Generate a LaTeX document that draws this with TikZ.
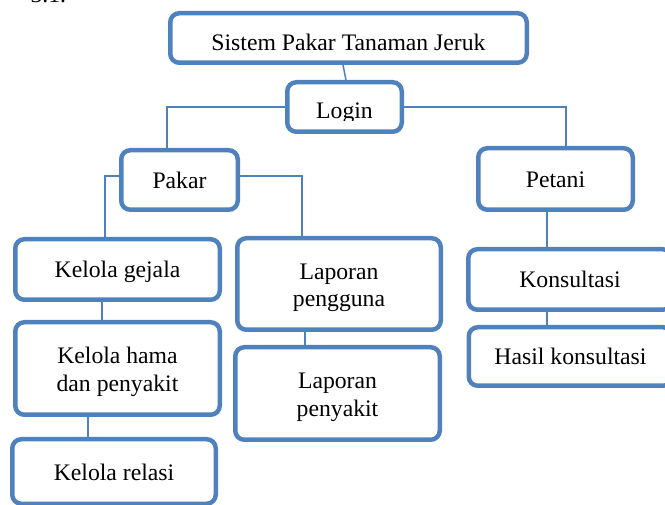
\documentclass[tikz,border=0pt]{standalone}
\usepackage{tikz}
\usepackage{xcolor}
\usepackage{fontspec}
\usepackage{trimclip}
\setmainfont{Liberation Serif}
\definecolor{boxblue}{RGB}{79,129,189}
\newcommand{\boxfont}{\fontsize{23.7}{27.3}\selectfont}
\newcommand{\toprule}{\rule{0pt}{23pt}}

\begin{document}
\begin{tikzpicture}[
  x=1pt, y=-1pt,
  box/.style={draw=boxblue,line width=4.5pt,rounded corners=9pt,align=center,font=\boxfont,inner sep=0pt},
  sbox/.style={box,text height=17pt,text depth=0pt},
  link/.style={draw=boxblue,line width=1.5pt}
]
  \useasboundingbox (0,0) rectangle (665,505);
  \node[font=\boxfont,anchor=base west] (fig) at (27,3) {3.1.};
  \node[sbox,text height=26pt,minimum width=356.5pt,minimum height=49.5pt] (sistem) at (348.5,38) {Sistem Pakar Tanaman Jeruk};
  \node[sbox,text height=23pt,minimum width=114.5pt,minimum height=49.5pt] (login) at (344.5,107) {\clipbox{0pt 3pt 0pt 0pt}{Login}};
  \node[sbox,minimum width=116.5pt,minimum height=59.5pt] (pakar) at (179.5,180) {Pakar};
  \node[sbox,minimum width=154.5pt,minimum height=61.5pt] (petani) at (555.5,179) {Petani};
  \node[sbox,minimum width=204.5pt,minimum height=60.5pt] (gejala) at (117.5,269.5) {Kelola gejala};
  \node[box,minimum width=203.5pt,minimum height=91.5pt] (pengguna) at (339,284) {\toprule Laporan\\pengguna};
  \node[box,minimum width=204.5pt,minimum height=92.5pt] (hama) at (117.5,368.5) {\toprule Kelola hama\\dan penyakit};
  \node[box,minimum width=204.5pt,minimum height=92.5pt] (penyakit) at (337.5,393.5) {\toprule Laporan\\penyakit};
  \node[sbox,minimum width=203.5pt,minimum height=64.5pt] (relasi) at (114,471.5) {Kelola relasi};
  \node[sbox,minimum width=203.5pt,minimum height=60.5pt] (konsultasi) at (570,279.5) {Konsultasi};
  \node[sbox,minimum width=203.5pt,minimum height=58.5pt] (hasil) at (570.5,356.5) {Hasil konsultasi};
  \draw[link] ([xshift=-5.5pt]sistem.south) -- ([xshift=1.5pt]login.north);
  \draw[link] (login.west) -| ([xshift=-12.5pt]pakar.north);
  \draw[link] (login.east) -| ([xshift=10.5pt]petani.north);
  \draw[link] ([yshift=4pt]pakar.west) -| ([xshift=-12.5pt]gejala.north);
  \draw[link] ([yshift=4pt]pakar.east) -| ([xshift=-37pt]pengguna.north);
  \draw[link] ([xshift=-15.5pt]gejala.south) -- ([xshift=-15.5pt]hama.north);
  \draw[link] ([xshift=-29.5pt]hama.south) -- ([xshift=-26pt]relasi.north);
  \draw[link] ([xshift=-34pt]pengguna.south) -- ([xshift=-32.5pt]penyakit.north);
  \draw[link] ([xshift=-8.5pt]petani.south) -- ([xshift=-23pt]konsultasi.north);
  \draw[link] ([xshift=-23pt]konsultasi.south) -- ([xshift=-23.5pt]hasil.north);
\end{tikzpicture}
\end{document}
